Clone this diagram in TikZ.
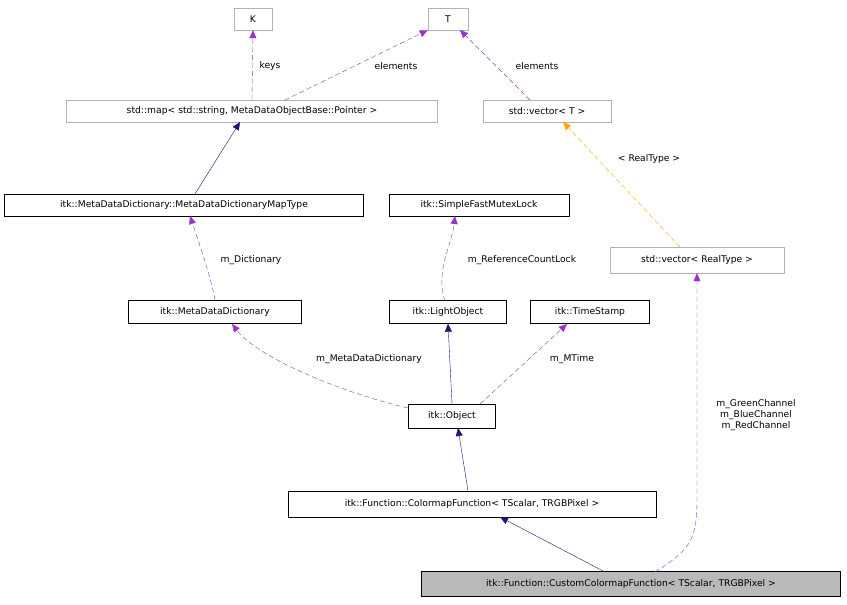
\documentclass[tikz,border=0pt]{standalone}
\usepackage{fontspec}
\setmainfont{DejaVu Sans}
\usetikzlibrary{arrows.meta}
\definecolor{pur}{HTML}{9A32CD}
\definecolor{nav}{HTML}{191970}
\definecolor{org}{HTML}{FFA500}
\begin{document}
\begin{tikzpicture}[x=1pt,y=-1pt,font=\fontsize{9.2}{11}\selectfont,
  box/.style={draw=black,inner sep=0pt,minimum height=22pt,fill=white},
  gbox/.style={box,draw=gray!60},
  dep/.style={-{Triangle[open,length=8pt,width=7pt,fill=pur]},pur,dashed,dash pattern=on 5pt off 3pt},
  inh/.style={-{Triangle[length=8pt,width=7pt]},nav},
  tpl/.style={-{Triangle[length=8pt,width=7pt]},org,dashed,dash pattern=on 5pt off 3pt},
  lab/.style={fill=white,inner sep=1pt}]
\useasboundingbox (0,0) rectangle (847,605);
\node[gbox,minimum width=38pt] (K) at (253,19) {K};
\node[gbox,minimum width=40pt] (T) at (448,19) {T};
\node[gbox,minimum width=371pt] (map) at (252,111) {std::map< std::string, MetaDataObjectBase::Pointer >};
\node[gbox,minimum width=128pt] (vT) at (547,111) {std::vector< T >};
\node[box,minimum width=359pt] (mt) at (184,205) {itk::MetaDataDictionary::MetaDataDictionaryMapType};
\node[box,minimum width=180pt] (mx) at (479,205) {itk::SimpleFastMutexLock};
\node[gbox,minimum width=174pt,minimum height=26pt] (vR) at (697,260) {std::vector< RealType >};
\node[box,minimum width=173pt,minimum height=23pt] (md) at (215,312) {itk::MetaDataDictionary};
\node[box,minimum width=117pt,minimum height=23pt] (lo) at (448,312) {itk::LightObject};
\node[box,minimum width=119pt,minimum height=23pt] (ts) at (590,312) {itk::TimeStamp};
\node[box,minimum width=87pt,minimum height=24pt] (ob) at (452,416) {itk::Object};
\node[box,minimum width=368pt,minimum height=26pt] (cf) at (472,504) {itk::Function::ColormapFunction< TScalar, TRGBPixel >};
\node[box,minimum width=419pt,minimum height=25pt,fill=gray!55] (cc) at (631,584) {itk::Function::CustomColormapFunction< TScalar, TRGBPixel >};
\draw[dep] (map.north) -- (K.south);
\node[lab] (l1) at (270,66) {keys};
\draw[dep] (285,100) -- (T.south west);
\node[lab] (l2) at (396,66) {elements};
\draw[dep] (530,100) -- (460,30);
\node[lab] (l3) at (537,66) {elements};
\draw[inh] (195,194) -- (240,122);
\draw[dep] (md.north) .. controls (212,280) and (198,240) .. (190,216);
\node[lab] (l4) at (251,260) {m\_Dictionary};
\draw[tpl] (680,247) -- (563,122);
\node[lab] (l5) at (649,159) {< RealType >};
\draw[dep] (445,301) .. controls (435,270) and (452,245) .. (455,216);
\node[lab] (l6) at (522,260) {m\_ReferenceCountLock};
\draw[dep] (408,408) .. controls (350,395) and (260,360) .. (232,324);
\node[lab] (l7) at (369,359) {m\_MetaDataDictionary};
\draw[inh] (ob.north) -- (lo.south);
\draw[dep] (480,404) -- (567,324);
\node[lab] (l8) at (572,359) {m\_MTime};
\draw[inh] (468,491) -- (458,428);
\draw[inh] (605,572) -- (500,517);
\draw[dep] (655,572) .. controls (690,550) and (697,540) .. (697,500) -- (vR.south);
\node[align=center,fill=white,inner sep=1pt] (gl) at (756,415) {m\_GreenChannel\\m\_BlueChannel\\m\_RedChannel};
\end{tikzpicture}
\end{document}
